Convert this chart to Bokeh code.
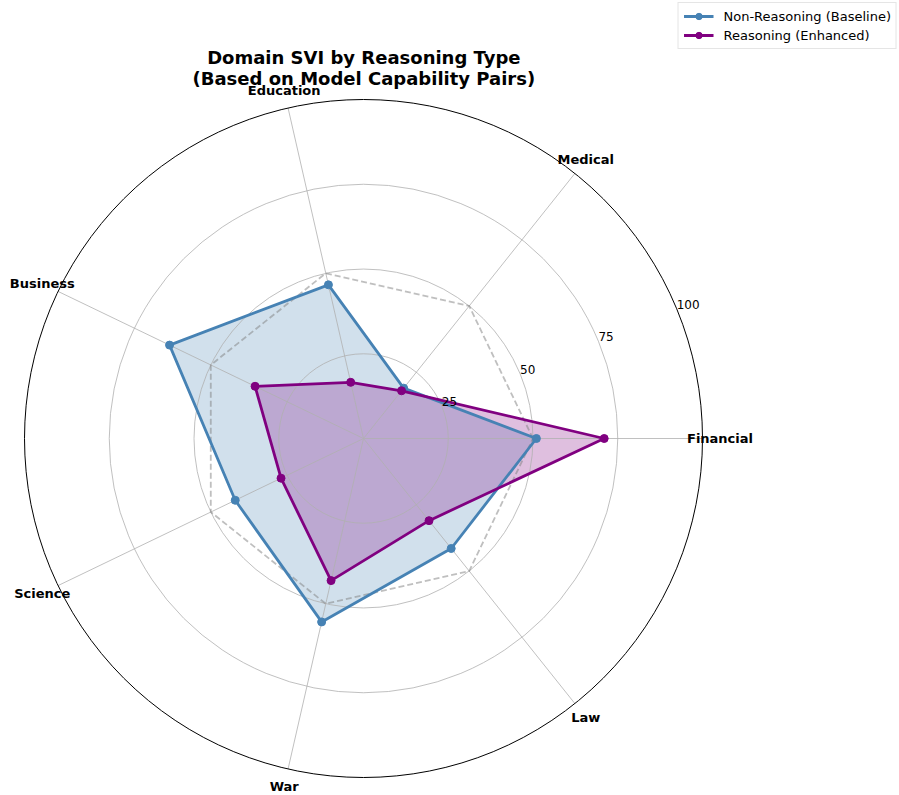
import numpy as np
from bokeh.plotting import figure
from bokeh.models import Range1d, Legend, LegendItem
from bokeh.core.properties import value
from bokeh.embed import file_html
from bokeh.resources import INLINE

# ---------------- data ----------------
categories = ["Financial", "Medical", "Education", "Business", "Science", "War", "Law"]
non_reasoning = [51, 19, 46.5, 63.5, 42, 55.5, 41.5]
reasoning = [71, 18, 17, 35.5, 27, 43, 31]
radial_ticks = [25, 50, 75, 100]
reference_level = 50
r_max = 100
title_lines = ["Domain SVI by Reasoning Type", "(Based on Model Capability Pairs)"]
series_names = ["Non-Reasoning (Baseline)", "Reasoning (Enhanced)"]

# ---------------- layout ----------------
W, H = 899, 794
CX, CY = 363, 438      # pole position on canvas (px)
S = 3.39               # px per radial unit

p = figure(width=W, height=H,
           x_range=Range1d(-CX / S, (W - CX) / S),
           y_range=Range1d(-(H - CY) / S, CY / S),
           output_backend="svg", toolbar_location=None,
           x_axis_location=None, y_axis_location=None,
           min_border=0)
p.grid.visible = False
p.outline_line_color = None
p.background_fill_color = "white"
p.border_fill_color = "white"

n = len(categories)
theta = np.arange(n) * 2 * np.pi / n


def polar(vals, close=True):
    v = np.asarray(vals, dtype=float)
    x = v * np.cos(theta)
    y = v * np.sin(theta)
    if close:
        x = np.append(x, x[0])
        y = np.append(y, y[0])
    return x, y


BLUE = "steelblue"
PURPLE = "purple"
GRID = "#b0b0b0"

bx, by = polar(non_reasoning)
px_, py_ = polar(reasoning)

# fills (below grid, as in the reference)
p.patch(bx, by, fill_color=BLUE, fill_alpha=0.25, line_color=None)
p.patch(px_, py_, fill_color=PURPLE, fill_alpha=0.25, line_color=None)

# grid circles and spokes
p.circle(x=0, y=0, radius=radial_ticks[:-1], fill_color=None,
         line_color=GRID, line_width=0.8)
p.segment(x0=0, y0=0, x1=r_max * np.cos(theta), y1=r_max * np.sin(theta),
          line_color=GRID, line_width=0.8)

# reference dashed polygon
rx, ry = polar([reference_level] * n)
p.line(rx, ry, line_color="gray", line_alpha=0.5, line_width=1.8, line_dash="6 3")

# series lines and markers
l1 = p.line(bx, by, line_color=BLUE, line_width=2.8)
s1 = p.scatter(bx[:-1], by[:-1], size=8, color=BLUE)
l2 = p.line(px_, py_, line_color=PURPLE, line_width=2.8)
s2 = p.scatter(px_[:-1], py_[:-1], size=8, color=PURPLE)

# outer spine
p.circle(x=0, y=0, radius=r_max, fill_color=None, line_color="black", line_width=1)

# category labels
lab_r = 356.5 / S
lx = lab_r * np.cos(theta)
ly = lab_r * np.sin(theta)
ymin_allowed = -(H - CY) / S + 6 / S
ly = np.maximum(ly, ymin_allowed)
p.text(x=lx, y=ly, text=categories, text_align="center", text_baseline="middle",
       text_font=value("DejaVu Sans"), text_font_style="bold",
       text_font_size="13px", text_color="black")

# radial tick labels
ang = np.deg2rad(22.5)
rt = np.asarray(radial_ticks, dtype=float)
p.text(x=rt * np.cos(ang), y=rt * np.sin(ang), text=[str(t) for t in radial_ticks],
       text_align="left", text_baseline="bottom",
       text_font=value("DejaVu Sans"), text_font_size="12px", text_color="black")

# title (two lines)
t_base = [56.7, 77.7]  # canvas px baselines
for line, yb in zip(title_lines, t_base):
    p.text(x=[0.1], y=[(CY - yb) / S], text=[line], text_align="center",
           text_baseline="alphabetic", text_font=value("DejaVu Sans"),
           text_font_style="bold", text_font_size="18px", text_color="black")

legend = Legend(items=[LegendItem(label=series_names[0], renderers=[l1, s1]),
                       LegendItem(label=series_names[1], renderers=[l2, s2])],
                location="top_right", margin=2, padding=5, spacing=3,
                glyph_width=30, glyph_height=16, label_height=16,
                label_standoff=10, label_text_font="DejaVu Sans",
                label_text_font_size="13px", label_text_color="black",
                border_line_color="#cccccc",
                border_line_width=1, background_fill_alpha=0.85)
p.add_layout(legend)

open("out.html", "w").write(file_html(p, INLINE, title="Domain SVI by Reasoning Type"))
